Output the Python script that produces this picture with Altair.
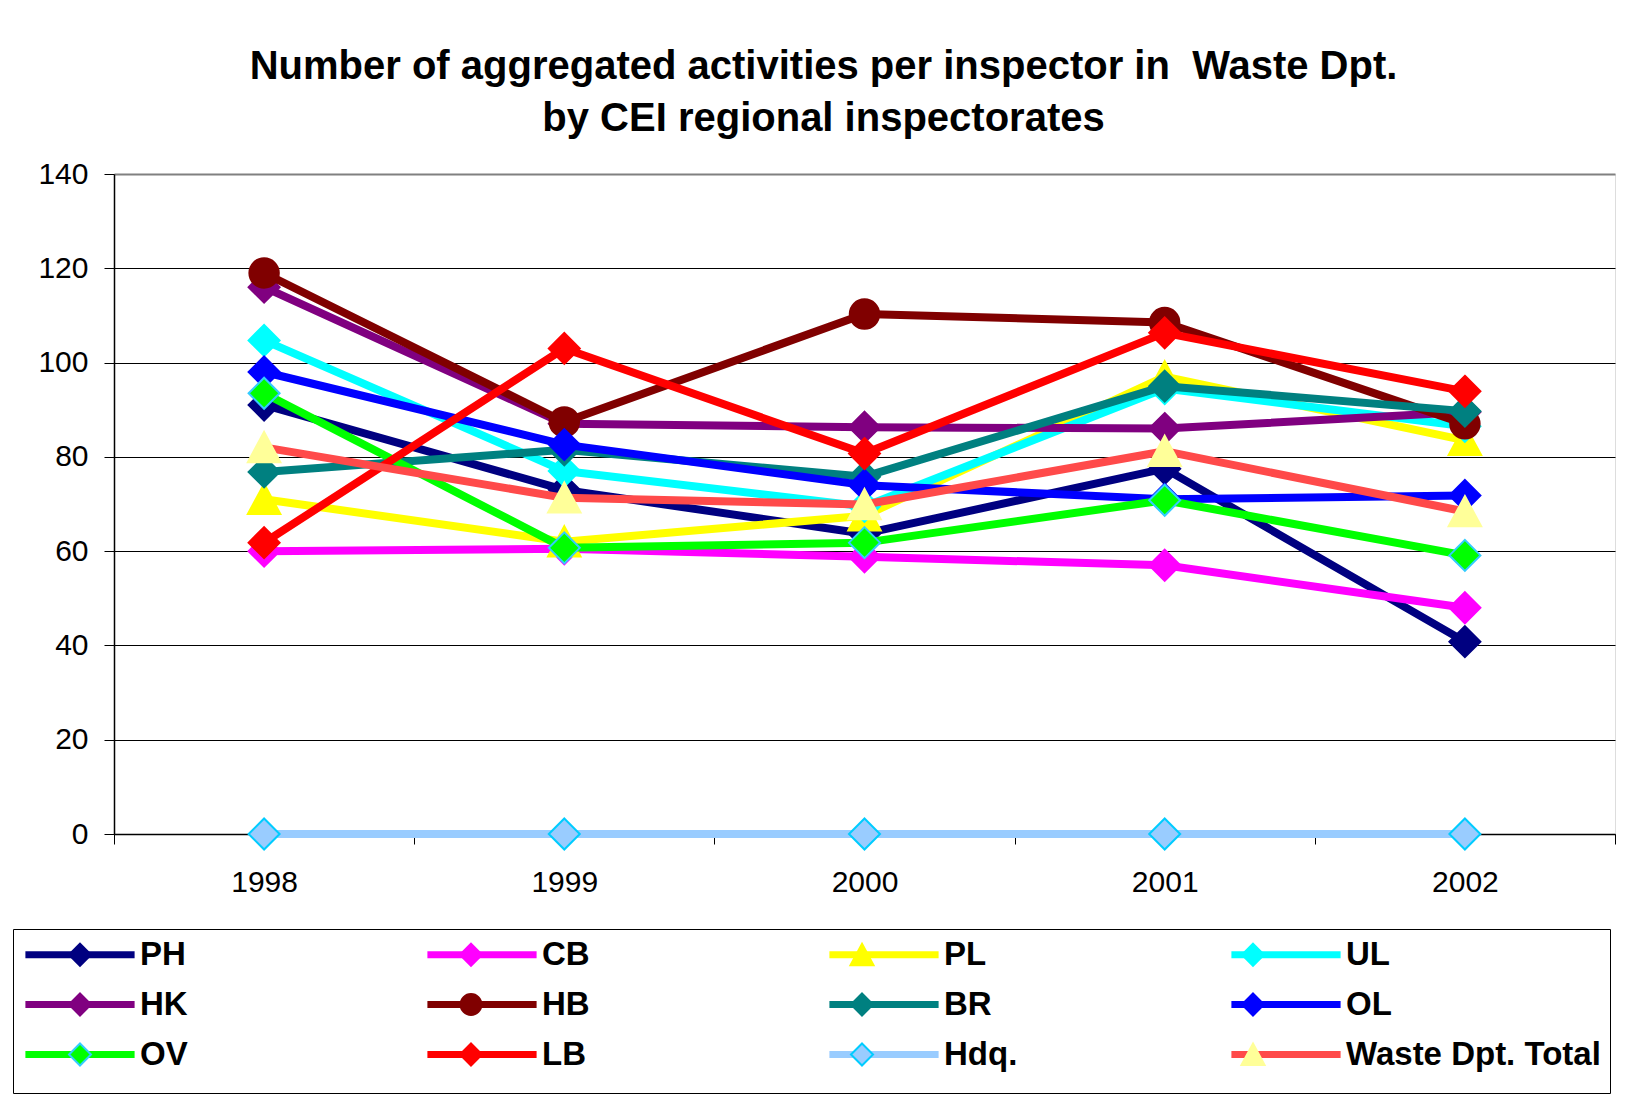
import altair as alt
import pandas as pd

YEARS = ["1998", "1999", "2000", "2001", "2002"]
SERIES = ["PH", "CB", "PL", "UL", "HK", "HB", "BR", "OL", "OV", "LB", "Hdq.", "Waste Dpt. Total"]

PH = [91.0, 73.0, 63.7, 77.5, 40.8]
CB = [60.0, 60.5, 58.8, 57.0, 48.0]
PL = [71.0, 62.0, 67.5, 97.0, 83.5]
UL = [104.7, 77.0, 69.5, 94.5, 86.5]
HK = [116.0, 87.0, 86.3, 86.0, 89.5]
HB = [119.0, 87.4, 110.3, 108.5, 87.0]
BR = [76.8, 81.5, 75.8, 95.0, 89.7]
OL = [98.0, 82.6, 74.0, 71.0, 71.8]
OV = [93.5, 60.7, 61.8, 70.8, 59.1]
LB = [61.8, 103.0, 80.7, 106.3, 93.9]
HDQ = [0.0, 0.0, 0.0, 0.0, 0.0]
WASTE_TOTAL = [82.0, 71.3, 69.9, 81.2, 68.4]
VALUES = [PH, CB, PL, UL, HK, HB, BR, OL, OV, LB, HDQ, WASTE_TOTAL]

LINE_COLORS = ["#000080", "#FF00FF", "#FFFF00", "#00FFFF", "#800080", "#800000",
               "#008080", "#0000FF", "#00FF00", "#FF0000", "#99CCFF", "#FF4A4A"]
MARKER_FILLS = ["#000080", "#FF00FF", "#FFFF00", "#00FFFF", "#800080", "#800000",
                "#008080", "#0000FF", "#00FF00", "#FF0000", "#99CCFF", "#FFFF99"]
MARKER_STROKES = ["#000080", "#FF00FF", "#FFFF00", "#00FFFF", "#800080", "#800000",
                  "#008080", "#0000FF", "#33CCFF", "#FF0000", "#00CCFF", "#FFFF99"]

DIAMOND = "M0,-1L1,0L0,1L-1,0Z"
CIRCLE = ("M0.95,0C0.95,0.525,0.525,0.95,0,0.95C-0.525,0.95,-0.95,0.525,-0.95,0"
          "C-0.95,-0.525,-0.525,-0.95,0,-0.95C0.525,-0.95,0.95,-0.525,0.95,0Z")
TRIANGLE = "M0,-1L1.05,0.95L-1.05,0.95Z"
MARKER_SHAPES = [DIAMOND, DIAMOND, TRIANGLE, DIAMOND, DIAMOND, CIRCLE,
                 DIAMOND, DIAMOND, DIAMOND, DIAMOND, DIAMOND, TRIANGLE]
LEGEND_LINE = "M-4.2,0H4.2"

ZW = "\u200b"
KEYS = [s + ZW for s in SERIES]

rows = []
for s, vals in zip(SERIES, VALUES):
    for yr, v in zip(YEARS, vals):
        rows.append({"year": yr, "series": s, "key": s + ZW, "value": v})
df = pd.DataFrame(rows)

FONT = "Liberation Sans"
LEG_X = -101
LEG_Y = 755
LEG_PAD = 9
LEG_COMMON = dict(orient="none", legendX=LEG_X, legendY=LEG_Y, direction="horizontal",
                  columns=4, gridAlign="all", columnPadding=18, rowPadding=16,
                  padding=LEG_PAD, symbolOffset=41.5,
                  labelFont=FONT, labelFontSize=33, labelFontWeight="bold",
                  labelColor="black", labelOffset=43.5, labelLimit=600)

X = alt.X("year:O", sort=YEARS,
          scale=alt.Scale(type="band", paddingInner=0, paddingOuter=0),
          axis=alt.Axis(title=None, labelAngle=0, tickBand="extent", grid=False,
                        labelFont=FONT, labelFontSize=30, labelColor="black",
                        labelPadding=23, tickSize=10, tickColor="black", tickWidth=1,
                        domainColor="black", domainWidth=1.5, zindex=0))
Y = alt.Y("value:Q",
          scale=alt.Scale(domain=[0, 140], nice=False, zero=True),
          axis=alt.Axis(title=None, values=list(range(0, 141, 20)),
                        labelFont=FONT, labelFontSize=30, labelColor="black",
                        labelPadding=16, tickSize=10, tickColor="black", tickWidth=1,
                        domainColor="black", domainWidth=1.5,
                        grid=True,
                        gridColor={"condition": {"test": "datum.value === 140", "value": "#808080"},
                                   "value": "black"},
                        gridWidth={"condition": {"test": "datum.value === 140", "value": 2},
                                   "value": 1},
                        zindex=0))

COLOR = alt.Color("series:N",
                  scale=alt.Scale(domain=SERIES, range=LINE_COLORS),
                  legend=alt.Legend(symbolType=LEGEND_LINE, symbolSize=676,
                                    symbolStrokeWidth=7,
                                    fillColor="white", strokeColor="black",
                                    title=" ", titleOrient="bottom", titleFontSize=8,
                                    titlePadding=4, zindex=1, **LEG_COMMON))
LEG2 = alt.Legend(symbolSize=484, symbolStrokeWidth=2, labelOpacity=0,
                  labelExpr="slice(datum.label, 0, length(datum.label) - 1)",
                  title=None, zindex=2, **LEG_COMMON)
SHAPE = alt.Shape("key:N", scale=alt.Scale(domain=KEYS, range=MARKER_SHAPES), legend=LEG2)
FILL = alt.Fill("key:N", scale=alt.Scale(domain=KEYS, range=MARKER_FILLS), legend=LEG2)
STROKE = alt.Stroke("key:N", scale=alt.Scale(domain=KEYS, range=MARKER_STROKES), legend=LEG2)

layers = []
for s in SERIES:
    base = alt.Chart(df).transform_filter(alt.FieldEqualPredicate(field="series", equal=s))
    line = base.mark_line(strokeWidth=8, strokeJoin="round", strokeCap="round").encode(
        x=X, y=Y, color=COLOR)
    pts = base.mark_point(filled=True, size=961, strokeWidth=2, opacity=1).encode(
        x=X, y=Y, shape=SHAPE, fill=FILL, stroke=STROKE)
    layers += [line, pts]

chart = alt.layer(*layers).properties(
    width=1501, height=660,
    autosize="none",
    padding={"left": 106, "top": 166, "right": 10, "bottom": 260},
    title=alt.TitleParams(
        text=["Number of aggregated activities per inspector in\u00a0 Waste Dpt.",
              "by CEI regional inspectorates"],
        font=FONT, fontSize=40, fontWeight="bold", color="black",
        anchor="middle", dx=-41, lineHeight=52, offset=20),
).configure_view(fill="#C0C0C0", stroke="#808080", strokeWidth=1.5
).configure(background="white")

chart.save("out.html", embed_options={"renderer": "svg", "actions": False})
